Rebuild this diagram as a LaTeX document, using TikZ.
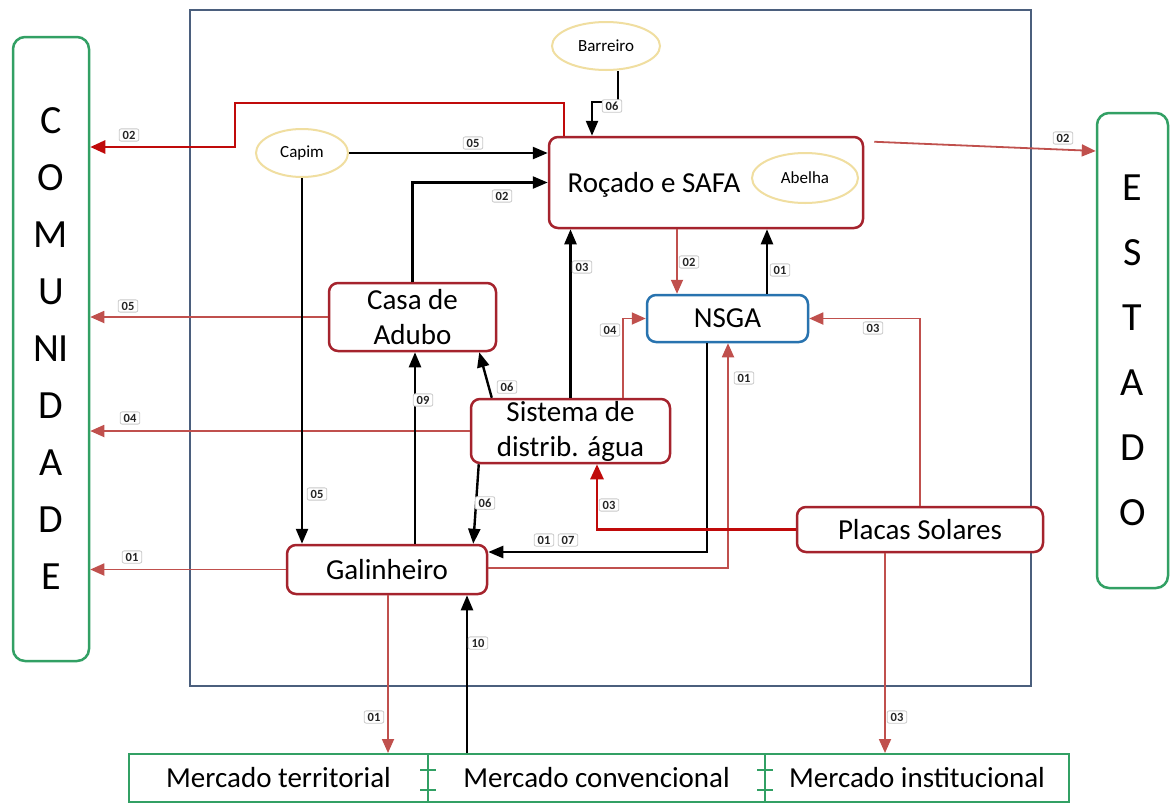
\documentclass[tikz,border=0pt]{standalone}
\usepackage{fontspec}
\setmainfont{Carlito}
\usetikzlibrary{arrows.meta,shapes.geometric}
\definecolor{boxred}{RGB}{165,35,45}
\definecolor{nsgablue}{RGB}{40,115,175}
\definecolor{sidegreen}{RGB}{50,160,100}
\definecolor{outercol}{RGB}{75,95,125}
\definecolor{ellcol}{RGB}{240,222,160}
\definecolor{arrred}{RGB}{192,80,77}
\definecolor{darkred}{RGB}{192,10,10}
\definecolor{labgray}{RGB}{200,200,200}
\begin{document}
\begin{tikzpicture}[x=1pt,y=-1pt,
  box/.style={draw=boxred,line width=2.5pt,rounded corners=9pt,fill=white,inner sep=0pt,align=center,font=\fontsize{29}{35}\selectfont},
  ell/.style={ellipse,draw=ellcol,line width=2pt,fill=white,inner sep=0pt,font=\fontsize{17}{20}\selectfont},
  side/.style={draw=sidegreen,line width=2.5pt,rounded corners=12pt,inner sep=0pt,align=center},
  merc/.style={draw=sidegreen,line width=2pt,inner sep=0pt,minimum height=48pt,font=\fontsize{29}{35}\selectfont},
  lab/.style={draw=labgray,line width=0.8pt,fill=white,rounded corners=2pt,inner xsep=3.5pt,inner ysep=2pt,font=\fontsize{12.5}{13}\selectfont\bfseries,text=black!85},
  blk/.style={draw=black,line width=2.4pt,-{Triangle[length=15pt,width=12pt]}},
  rd/.style={draw=arrred,line width=1.8pt,-{Triangle[length=14pt,width=12pt]}},
  drd/.style={draw=darkred,line width=2.6pt,-{Triangle[length=15pt,width=13pt]}},
  tick/.style={draw=sidegreen,line width=2pt},
]
\useasboundingbox (0,0) rectangle (1171,804);
\fill[white] (0,0) rectangle (1171,804);

% outer system boundary
\node[draw=outercol,line width=2pt,inner sep=0pt,minimum width=841pt,minimum height=676pt] (outer) at (610.5,348) {};

% side boxes
\node[side,minimum width=76pt,minimum height=624pt,font=\fontsize{40}{57}\selectfont] (com) at (51,349) {C\\O\\M\\U\\NI\\D\\A\\D\\E};
\node[side,minimum width=71pt,minimum height=475pt,font=\fontsize{40}{65}\selectfont] (est) at (1132.5,350.5) {E\\S\\T\\A\\D\\O};

% inner nodes
\node[ell,minimum width=108pt,minimum height=48pt] (barreiro) at (606,46) {Barreiro};
\node[ell,minimum width=92pt,minimum height=48pt] (capim) at (302,153) {Capim};
\node[box,minimum width=314pt,minimum height=91pt] (rocado) at (706,182.5) {};
\node[font=\fontsize{29}{35}\selectfont,inner sep=0pt] (rocadotxt) at (654,185) {Roçado e SAFA};
\node[ell,minimum width=106pt,minimum height=50pt] (abelha) at (805,178) {Abelha};
\node[box,draw=nsgablue,minimum width=161pt,minimum height=47pt] (nsga) at (727.5,318.5) {NSGA};
\node[box,minimum width=167pt,minimum height=68pt] (casa) at (412.5,317) {Casa de\\Adubo};
\node[box,minimum width=199pt,minimum height=64pt] (sist) at (570.5,431) {Sistema de\\distrib. água};
\node[box,minimum width=200pt,minimum height=49pt] (gal) at (387,569.5) {Galinheiro};
\node[box,minimum width=246pt,minimum height=45pt] (placas) at (920,529.5) {Placas Solares};

% markets
\node[merc,minimum width=299pt] (merc1) at (278.5,778) {Mercado territorial};
\node[merc,minimum width=337pt] (merc2) at (596.5,778) {Mercado convencional};
\node[merc,minimum width=304pt] (merc3) at (917,778) {Mercado institucional};
\draw[tick] (420,770) -- (436,770) (420,790) -- (436,790);
\draw[tick] (757,770) -- (773,770) (757,790) -- (773,790);

% helper coordinates
\coordinate (c1a) at (564,103);
\coordinate (c1b) at (235,147);
\coordinate (b1) at (618,102);
\coordinate (b2) at (592,102);
\coordinate (x677) at (677,0);
\coordinate (x767) at (767,0);
\coordinate (e2) at (0,151);
\coordinate (x415) at (415,0);
\coordinate (x623) at (623,0);
\coordinate (x707) at (707,0);
\coordinate (y552) at (0,552);
\coordinate (x728) at (728,0);
\coordinate (y568) at (0,568);
\coordinate (x597) at (597,0);
\coordinate (x388) at (388,0);
\coordinate (x467) at (467,0);
\coordinate (x885) at (885,0);

% connectors
\draw[drd] (rocado.north -| c1a) -- (c1a) -| (c1b) -- (com.east |- c1b);
\draw[blk] (barreiro.south -| b1) -- (b1) -- (b2) -- (rocado.north -| b2);
\draw[blk] (capim) -- (capim -| rocado.west);
\draw[blk] (casa.north) |- (rocado.west);
\draw[blk] (sist.north) -- (sist.north |- rocado.south);
\draw[rd] (rocado.south -| x677) -- (nsga.north -| x677);
\draw[blk] (nsga.north -| x767) -- (rocado.south -| x767);
\draw[rd] ([xshift=10pt,yshift=-6pt]rocado.north east) -- (est.west |- e2);
\draw[rd] (casa.west) -- (com.east |- casa.west);
\draw[rd] (sist.west) -- (com.east |- sist.west);
\draw[rd] (gal.west) -- (com.east |- gal.west);
\draw[blk] (capim.south) -- (capim.south |- gal.north);
\draw[blk] (gal.north -| x415) -- (casa.south -| x415);
\draw[blk] ([xshift=22pt]sist.north west) -- ([xshift=-18pt]casa.south east);
\draw[blk] ([xshift=9pt]sist.south west) -- ([xshift=-15pt]gal.north east);
\draw[rd] (sist.north -| x623) |- (nsga.west);
\draw[rd] (placas.north) |- (nsga.east);
\draw[blk] (nsga.south -| x707) |- (gal.east |- y552);
\draw[rd] (gal.east |- y568) -| (nsga.south -| x728);
\draw[drd] (placas.west) -| (sist.south -| x597);
\draw[rd] (gal.south -| x388) -- (merc1.north -| x388);
\draw[blk] (merc2.north -| x467) -- (gal.south -| x467);
\draw[rd] (placas.south -| x885) -- (merc3.north -| x885);

% flow labels
\node[lab] (l1) at (129,135) {02};
\node[lab] (l2) at (612,106) {06};
\node[lab] (l3) at (473,143) {05};
\node[lab] (l4) at (502,196) {02};
\node[lab] (l5) at (582,267) {03};
\node[lab] (l6) at (689,262) {02};
\node[lab] (l7) at (780,270) {01};
\node[lab] (l8) at (1063,138) {02};
\node[lab] (l9) at (128,306) {05};
\node[lab] (l10) at (130,418) {04};
\node[lab] (l11) at (132,557) {01};
\node[lab] (l12) at (317,494) {05};
\node[lab] (l13) at (423,400) {09};
\node[lab] (l14) at (507,387) {06};
\node[lab] (l15) at (485,503) {06};
\node[lab] (l16) at (610,330) {04};
\node[lab] (l17) at (873,328) {03};
\node[lab] (l18) at (544,540) {01};
\node[lab] (l19) at (568,540) {07};
\node[lab] (l20) at (744,378) {01};
\node[lab] (l21) at (609,505) {03};
\node[lab] (l22) at (374,717) {01};
\node[lab] (l23) at (478,643) {10};
\node[lab] (l24) at (897,717) {03};
\end{tikzpicture}
\end{document}
